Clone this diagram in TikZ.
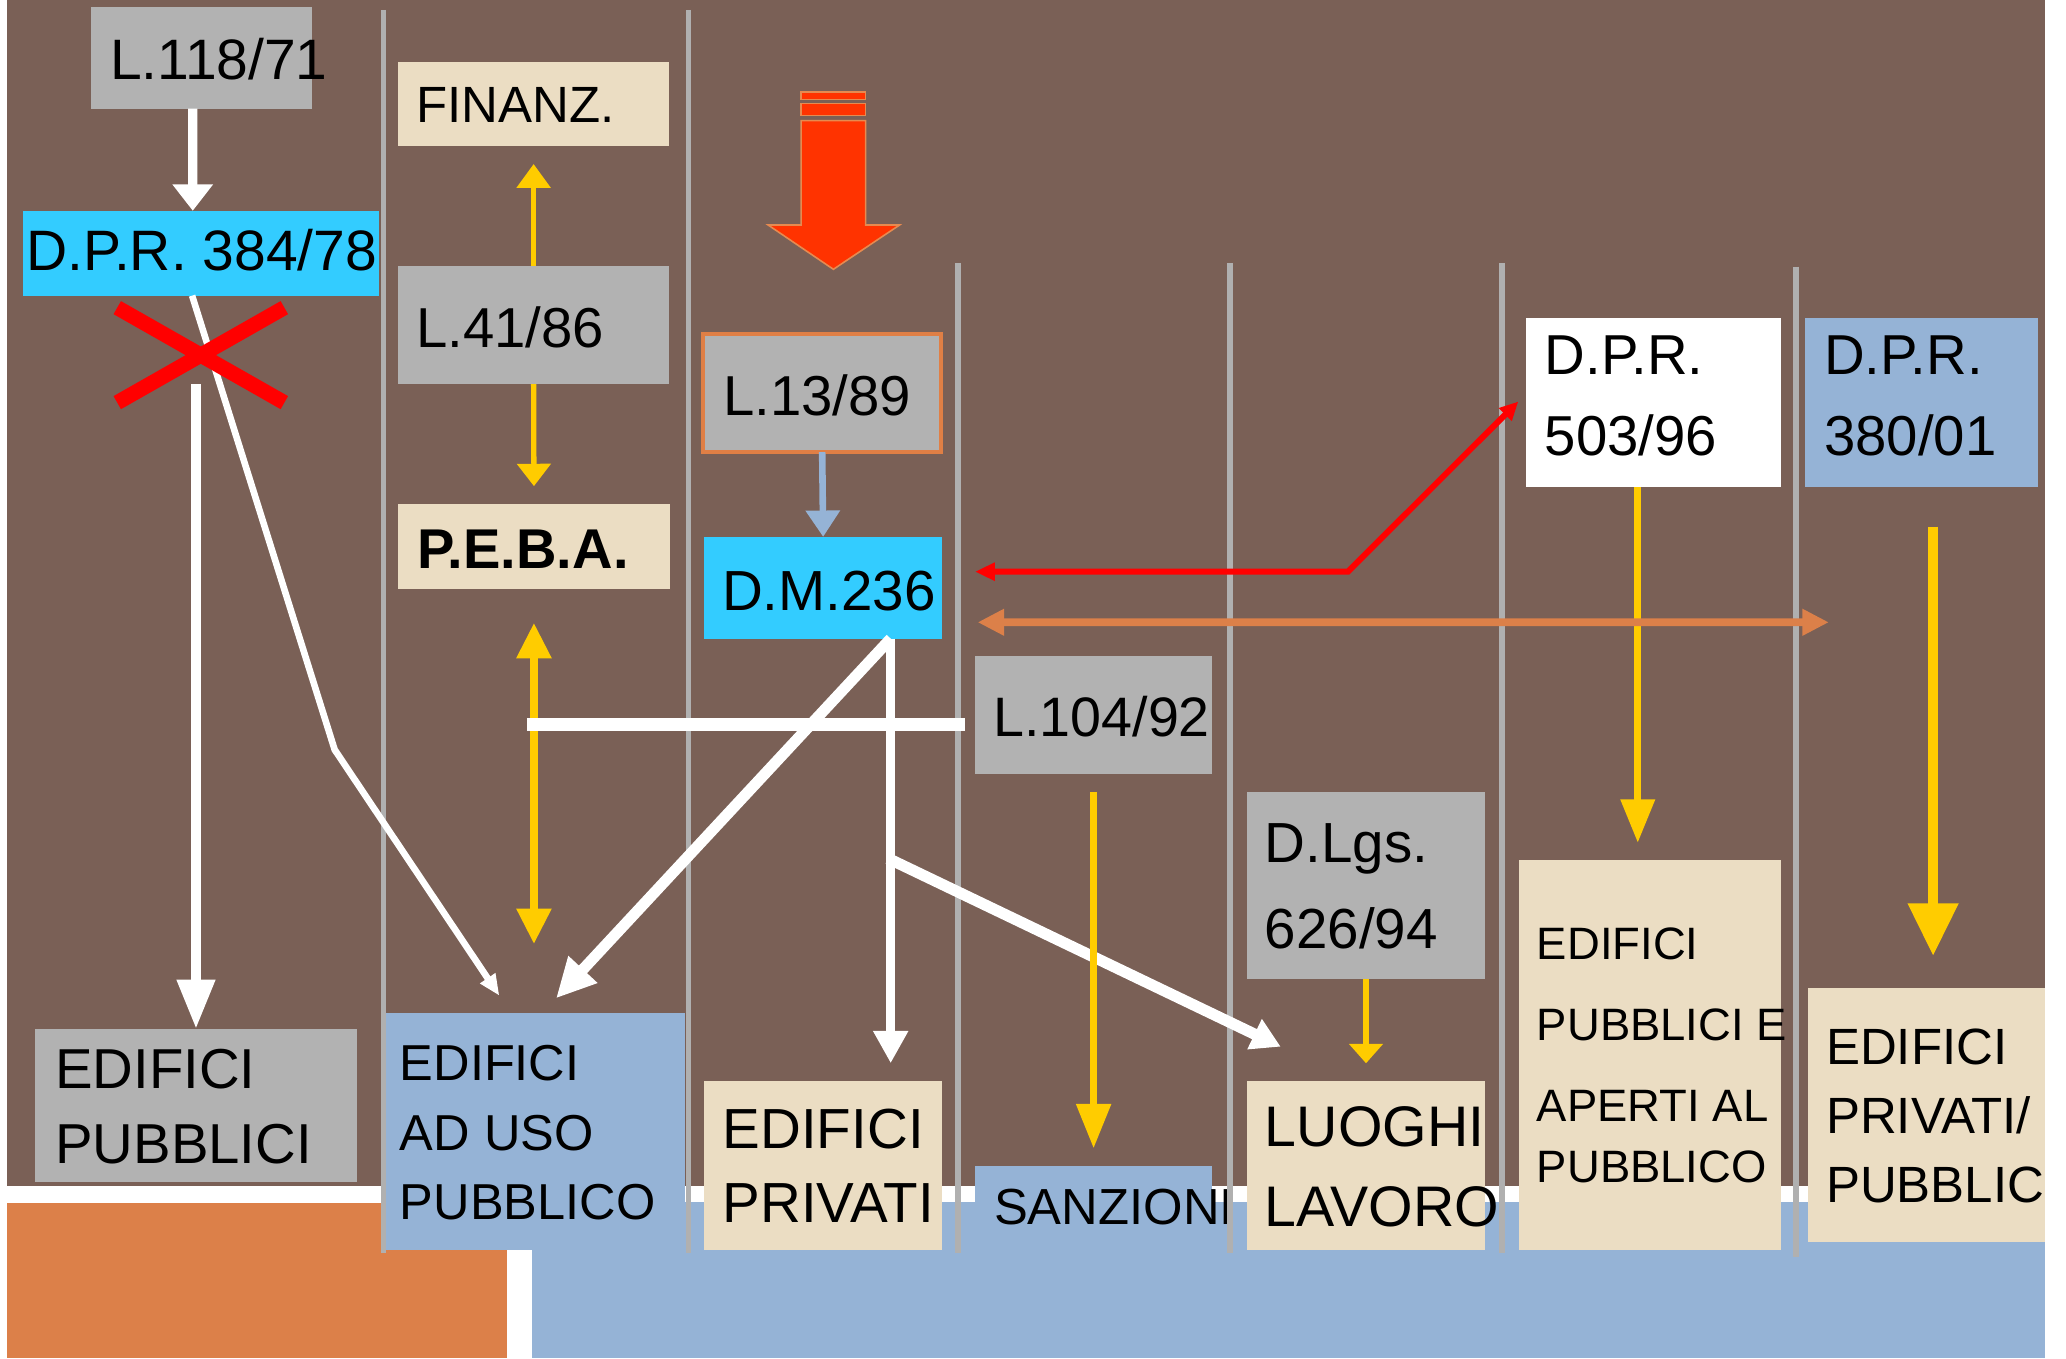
\documentclass[tikz,border=0pt]{standalone}
\usepackage{fontspec}
\setmainfont{Liberation Sans}
\usetikzlibrary{fit,calc,arrows.meta}
\definecolor{brownbg}{HTML}{7A6056}
\definecolor{grayb}{HTML}{B2B2B2}
\definecolor{cyanb}{HTML}{33CCFF}
\definecolor{beige}{HTML}{EBDDC3}
\definecolor{blueb}{HTML}{95B3D6}
\definecolor{orangebg}{HTML}{DC8049}
\definecolor{yell}{HTML}{FFCC00}
\definecolor{redc}{HTML}{FF0000}
\definecolor{blockred}{HTML}{FF3300}
\definecolor{blockedge}{HTML}{E68A50}
\definecolor{borderor}{HTML}{E07F45}
\definecolor{gline}{HTML}{B0B0B0}
\begin{document}
\begin{tikzpicture}[x=0.01cm,y=-0.01cm,
  box/.style={rectangle, inner sep=0pt, outer sep=0pt, draw=none},
  txt/.style={anchor=base west, inner sep=0pt, outer sep=0pt, text=black},
  sepline/.style={draw=gline, line width=0.043cm},
  wl/.style={draw=white},
  yl/.style={draw=yell},
  blockar/.style={fill=blockred, draw=blockedge, line width=0.012cm}]
\useasboundingbox (0,0) rectangle (1568,1031);
% background
\fill[white] (0,0) rectangle (1568,1031);
\fill[brownbg] (5,0) rectangle (1552,900);
\fill[orangebg] (5,913) rectangle (385,1031);
\fill[blueb] (404,912) rectangle (1552,1031);
% big block arrow
\filldraw[blockar] (608,91.6) -- (657,91.6) -- (657,170.8) -- (682.7,170.8) -- (632.5,204.4) -- (583,170.8) -- (608,170.8) -- cycle;
\filldraw[blockar] (608,78.7) rectangle (657,87.8);
\filldraw[blockar] (608,70) rectangle (657,75.4);
% boxes
\node[box, fill=grayb, fit={(69,5) (236.5,82.5)}] (l118) {};
\node[box, fill=cyanb, fit={(17.6,160) (288,224.4)}] (dpr384) {};
\node[box, fill=beige, fit={(302,47) (508,111)}] (finanz) {};
\node[box, fill=grayb, fit={(302,202) (508,291.6)}] (l41) {};
\node[box, fill=beige, fit={(302,382.5) (508.5,446.8)}] (peba) {};
\node[box, fill=grayb, draw=borderor, line width=0.03cm, fit={(533.5,253.2) (714.5,343.1)}] (l13) {};
\node[box, fill=cyanb, fit={(534.5,407.5) (715,484.7)}] (dm236) {};
\node[box, fill=grayb, fit={(740,498) (920,587.5)}] (l104) {};
\node[box, fill=white, fit={(1158.3,241.6) (1351.7,370)}] (dpr503) {};
\node[box, fill=blueb, fit={(1369.8,241.6) (1546.5,370)}] (dpr380) {};
\node[box, fill=grayb, fit={(946.5,601.3) (1127,743)}] (dlgs) {};
\node[box, fill=grayb, fit={(26.5,781) (271,896.9)}] (epub) {};
\node[box, fill=blueb, fit={(289,769) (520,949)}] (eau) {};
\node[box, fill=beige, fit={(534.5,820.4) (715,949)}] (epriv) {};
\node[box, fill=blueb, fit={(740,885) (920,949)}] (sanz) {};
\node[box, fill=beige, fit={(946.5,820.4) (1127,949)}] (luoghi) {};
\node[box, fill=beige, fit={(1153,652.7) (1351.5,949)}] (epa) {};
\node[box, fill=beige, fit={(1372,750) (1552.4,942.4)}] (epp) {};
% texts
\node[txt, font=\fontsize{12.3}{14}\selectfont] (t118) at (83.5,60.7) {L.118/71};
\node[txt, font=\fontsize{12.3}{14}\selectfont] (t384) at (20,205.4) {D.P.R. 384/78};
\node[txt, font=\fontsize{11.0}{14}\selectfont] (tfin) at (316,93) {FINANZ.};
\node[txt, font=\fontsize{12.15}{14}\selectfont] (t41) at (316,263.9) {L.41/86};
\node[txt, font=\fontsize{12.1}{14}\selectfont\bfseries] (tpeba) at (317,431.3) {P.E.B.A.};
\node[txt, font=\fontsize{12.15}{14}\selectfont] (t13) at (549,315) {L.13/89};
\node[txt, font=\fontsize{12.2}{14}\selectfont] (tdm) at (548,463.5) {D.M.236};
\node[txt, font=\fontsize{12.0}{14}\selectfont] (t104) at (754,559) {L.104/92};
\node[txt, font=\fontsize{12.15}{17.64}\selectfont] (t503) at (1172.5,284) {\vtop{\hbox{D.P.R.}\hbox{503/96}}};
\node[txt, font=\fontsize{12.15}{17.64}\selectfont] (t380) at (1384.5,284) {\vtop{\hbox{D.P.R.}\hbox{380/01}}};
\node[txt, font=\fontsize{12.2}{18.58}\selectfont] (tdlgs) at (960,654.4) {\vtop{\hbox{D.Lgs.}\hbox{626/94}}};
\node[txt, font=\fontsize{10.95}{14}\selectfont] (tsanz) at (754.5,929.7) {SANZIONI};
\node[txt, font=\fontsize{12.35}{17.13}\selectfont] (tluo) at (960,870.3) {\vtop{\hbox{LUOGHI}\hbox{LAVORO}}};
\node[txt, font=\fontsize{9.8}{17.5}\selectfont] (tepa) at (1166.5,728) {\vtop{\hbox{EDIFICI}\hbox{PUBBLICI E}\hbox{APERTI AL}\vskip-4.3pt\hbox{PUBBLICO}}};
\node[txt, font=\fontsize{11.0}{14.94}\selectfont] (tepp) at (1386,807.8) {\vtop{\hbox{EDIFICI}\hbox{PRIVATI/}\hbox{PUBBLIC}}};
\node[txt, font=\fontsize{12.15}{16.22}\selectfont] (tepub) at (42,826) {\vtop{\hbox{EDIFICI}\hbox{PUBBLICI}}};
\node[txt, font=\fontsize{10.9}{14.91}\selectfont] (teau) at (303.5,820.4) {\vtop{\hbox{EDIFICI}\hbox{AD USO}\hbox{PUBBLICO}}};
\node[txt, font=\fontsize{12.2}{16.08}\selectfont] (tepriv) at (548.5,871.5) {\vtop{\hbox{EDIFICI}\hbox{PRIVATI}}};
% separator lines
\draw[sepline] (291,7.6) -- (291,951);
\draw[sepline] (522.5,7.6) -- (522.5,951);
\draw[sepline] (727,199.5) -- (727,951);
\draw[sepline] (933.3,199.5) -- (933.3,951);
\draw[sepline] (1139.7,199.5) -- (1139.7,951);
\draw[sepline] (1363,202.4) -- (1363,954);
% white connectors on the left
\coordinate (wb1) at (254,569);
\draw[wl, line width=0.05cm, -{Triangle[width=0.13cm,length=0.16cm]}] ($(dpr384.south)+(-7,0)$) -- (wb1) -- ($(eau.north)+(-25.5,-13.3)$);
\draw[redc, line width=0.114cm] (89,233.5) -- (215.8,305.6) (215.8,233.5) -- (89,305.6);
\draw[wl, line width=0.07cm, -{Triangle[width=0.295cm,length=0.2cm]}] ($(l118.south)+(-6.5,0)$) -- ($(dpr384.north)+(-6.5,0)$);
\draw[wl, line width=0.075cm, -{Triangle[width=0.275cm,length=0.375cm]}] ($(epub.north |- dpr384.south)+(0,67.3)$) -- (epub.north);
% yellow connectors around L.41/86
\draw[yl, line width=0.04cm, -{Triangle[width=0.25cm,length=0.18cm]}] (l41.north) -- ($(finanz.south)+(0,13.5)$);
\draw[yl, line width=0.04cm, -{Triangle[width=0.25cm,length=0.17cm]}] (l41.south) -- ($(peba.north)+(0,-13.5)$);
\draw[yl, line width=0.065cm, {Triangle[width=0.25cm,length=0.27cm]}-{Triangle[width=0.25cm,length=0.27cm]}] ($(peba.south)+(0,25.8)$) -- ($(peba.south |- eau.north)+(0,-52.4)$);
% white bar from L.104/92
\draw[wl, line width=0.095cm] ($(l104.west)+(-7.5,7)$) -- ($(peba.south |- l104.west)+(-5,7)$);
% blue connector
\draw[draw=blueb, line width=0.05cm, -{Triangle[width=0.25cm,length=0.2cm]}] (l13.south) -- (dm236.north);
% white connectors from D.M.236
\draw[wl, line width=0.084cm, -{Triangle[width=0.28cm,length=0.3cm]}] ($(dm236.south)+(51.25,0)$) -- ($(eau.north)+(17.5,-11.3)$);
\draw[wl, line width=0.065cm, -{Triangle[width=0.25cm,length=0.245cm]}] ($(dm236.south)+(51.25,0)$) -- ($(epriv.north)+(51.25,-13.4)$);
\coordinate (br) at (674,651.5);
\draw[wl, line width=0.085cm, -{Triangle[width=0.24cm,length=0.22cm]}] (br) -- ($(luoghi.north west)+(25.5,-26)$);
% yellow connectors right part
\draw[yl, line width=0.05cm, -{Triangle[width=0.255cm,length=0.336cm]}] ($(l104.south)+(0,13.5)$) -- ($(sanz.north)+(0,-13.5)$);
\draw[yl, line width=0.04cm, -{Triangle[width=0.25cm,length=0.147cm]}] (dlgs.south) -- ($(luoghi.north)+(0,-13.4)$);
\draw[yl, line width=0.055cm, -{Triangle[width=0.25cm,length=0.33cm]}] ($(dpr503.south)+(-12,0)$) -- ($(dpr503.south |- epa.north)+(-12,-13)$);
\draw[yl, line width=0.08cm, -{Triangle[width=0.365cm,length=0.4cm]}] ($(dpr380.south)+(9,29.7)$) -- ($(dpr380.south |- epp.north)+(9,-24.4)$);
% orange double arrow
\coordinate (oend) at (1388,472.3);
\draw[draw=orangebg, line width=0.06cm, {Triangle[width=0.19cm,length=0.2cm]}-{Triangle[width=0.19cm,length=0.2cm]}] ($(dm236.east)+(27,26.2)$) -- (oend);
% red double arrow
\coordinate (rbend) at (1023,433.9);
\draw[draw=redc, line width=0.045cm, {Triangle[width=0.13cm,length=0.15cm]}-{Triangle[width=0.13cm,length=0.14cm]}] ($(dm236.east)+(25,-12.2)$) -- (rbend) -- ($(dpr503.west)+(-6,-1)$);
\end{tikzpicture}
\end{document}
